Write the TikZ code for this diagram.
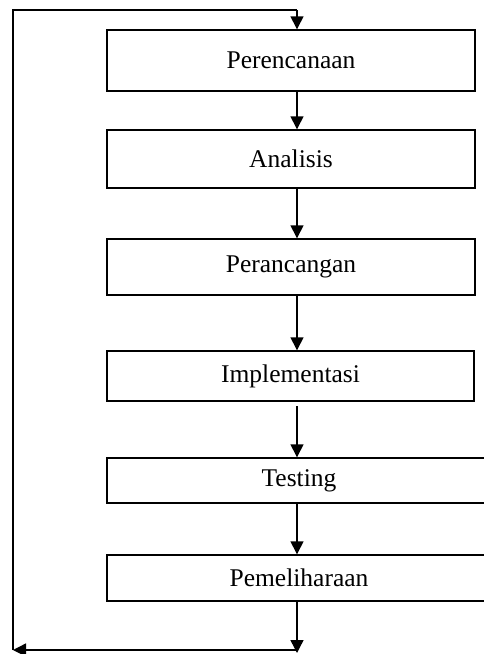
\documentclass[tikz,border=0pt]{standalone}
\usepackage{fontspec}
\setmainfont{Liberation Serif}
\usetikzlibrary{arrows.meta}
\begin{document}
\begin{tikzpicture}[x=1pt,y=-1pt,
  stepbox/.style={draw,line width=1.4pt,inner sep=0pt,font=\fontsize{25.5}{29}\selectfont},
  flow/.style={line width=1.4pt,-{Triangle[length=13pt,width=13pt]}},
  plain/.style={line width=1.4pt}]
\useasboundingbox (0,0) rectangle (483,654);
\node[stepbox,minimum width=368pt,minimum height=61pt] (p1) at (291,60.5) {Perencanaan};
\node[stepbox,minimum width=368pt,minimum height=58pt] (p2) at (291,159) {Analisis};
\node[stepbox,minimum width=368pt,minimum height=56pt] (p3) at (291,267) {Perancangan};
\node[stepbox,minimum width=367pt,minimum height=50pt] (p4) at (290.5,376) {Implementasi};
\node[stepbox,minimum width=384pt,minimum height=45pt] (p5) at (299,480.5) {Testing};
\node[stepbox,minimum width=384pt,minimum height=46pt] (p6) at (299,578) {Pemeliharaan};
\coordinate (tl) at (13,10);
\coordinate (tr) at (297,10);
\coordinate (bl) at (13,650);
\coordinate (br) at (297,650);
\coordinate (g4) at (297,406);
\draw[plain] (bl) -- (tl) -- (tr);
\draw[flow] (tr) -- (tr |- p1.north);
\draw[flow] (tr |- p1.south) -- (tr |- p2.north);
\draw[flow] (tr |- p2.south) -- (tr |- p3.north);
\draw[flow] (tr |- p3.south) -- (tr |- p4.north);
\draw[flow] (g4) -- (tr |- p5.north);
\draw[flow] (tr |- p5.south) -- (tr |- p6.north);
\draw[flow] (tr |- p6.south) -- ([yshift=-3pt]br);
\draw[flow] (br) -- (bl);
\end{tikzpicture}
\end{document}
